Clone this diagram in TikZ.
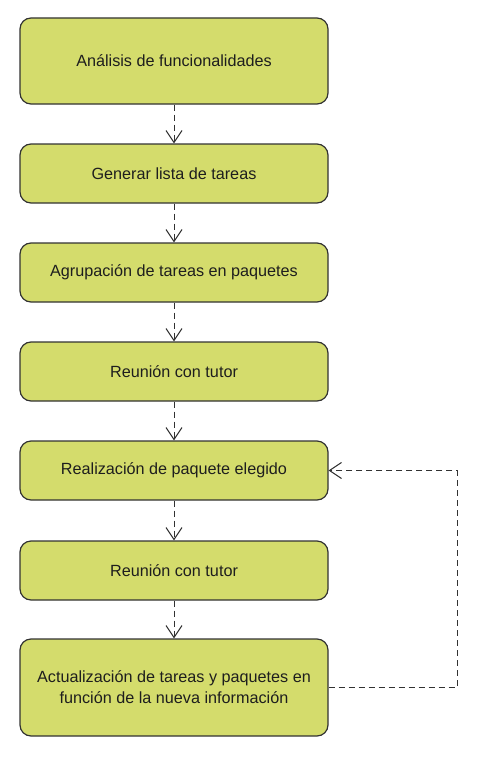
\documentclass[tikz,border=0pt]{standalone}
\usepackage{fontspec}
\setmainfont{Liberation Sans}
\usetikzlibrary{arrows.meta}
\definecolor{boxfill}{RGB}{212,220,108}
\definecolor{boxline}{RGB}{50,50,50}
\definecolor{txt}{RGB}{30,30,30}
\begin{document}
\begin{tikzpicture}[x=1pt,y=-1pt,
  stepbox/.style={draw=boxline,fill=boxfill,line width=1.2pt,rounded corners=11pt,
    minimum width=308pt,inner sep=0pt,align=center,text=txt,font=\fontsize{16.2}{21}\selectfont},
  flow/.style={draw=boxline,line width=1pt,dash pattern=on 6pt off 4pt,
    -{Straight Barb[length=12pt,width=16pt,line width=1pt]}}]
\useasboundingbox (0,0) rectangle (481,760);
\node[stepbox,minimum height=86pt] (a) at (174,61) {Análisis de funcionalidades};
\node[stepbox,minimum height=59pt] (b) at (174,173.5) {Generar lista de tareas};
\node[stepbox,minimum height=59pt] (c) at (174,272.5) {Agrupación de tareas en paquetes};
\node[stepbox,minimum height=59pt] (d) at (174,371.5) {Reunión con tutor};
\node[stepbox,minimum height=59pt] (e) at (174,470.5) {Realización de paquete elegido};
\node[stepbox,minimum height=59pt] (f) at (174,570.5) {Reunión con tutor};
\node[stepbox,minimum height=97pt] (g) at (174,687.5) {Actualización de tareas y paquetes en\\función de la nueva información};
\coordinate (r) at (457,687.5);
\draw[flow] (a) -- (b);
\draw[flow] (b) -- (c);
\draw[flow] (c) -- (d);
\draw[flow] (d) -- (e);
\draw[flow] (e) -- (f);
\draw[flow] (f) -- (g);
\draw[flow] (g.east) -- (r) |- (e.east);
\end{tikzpicture}
\end{document}
